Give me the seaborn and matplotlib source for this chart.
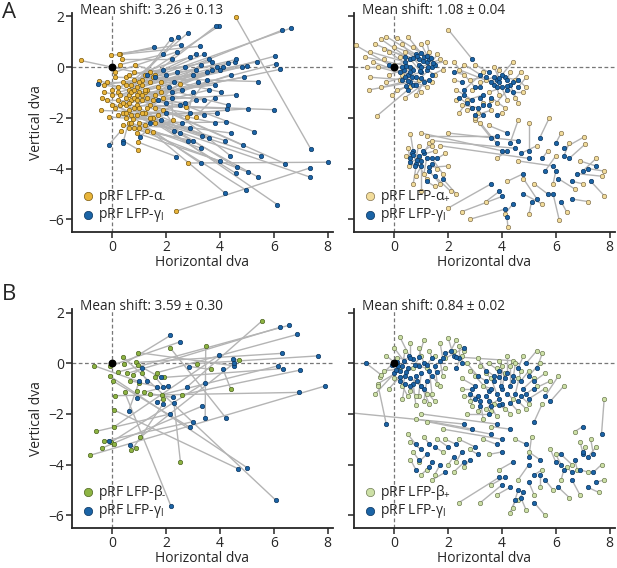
import matplotlib
matplotlib.use('Agg')
import matplotlib.pyplot as plt
from matplotlib.collections import LineCollection
import seaborn as sns
import pandas as pd

# ---- Painel A esquerda: alfa- (x, y) -> gama (x, y)
a1_ax = [4.58, 2.36, 2.82, -1.18, 1.5, 1.4, 1.2, 0.9, 0.8, 0.6, 0.5, 0.3, 0.26, -0.05, 1.0, 1.3, 0.7, 1.1, 0.4, 0.9,
         0.2, 1.6, 0.6, 1.2, 0.1, 0.8, 1.4, 0.5, 1.7, 0.3, 1.0, 0.7, 1.5, 0.6, 0.9, 1.3, 0.4, 1.1, 0.8, 0.2,
         1.0, 0.5, 1.2, 0.96, 0.7, 1.52, 0.6, 0.2, 0.33, 0.96, 0.6, 1.3, 2.25, 2.75, 3.09, 2.78, 2.53, 0.83, -0.49, -0.43,
         -0.11, -0.3, -0.2, 0.0, 0.77, 1.6, 1.8, 1.9, 0.1, 0.5, 1.1, 0.35, 0.9, 1.4, 0.4, 1.7, 0.8, 1.6, 0.0, 1.2,
         0.3, 0.5, 0.7, 0.9, 1.1, 0.4, 0.6, 0.8, 1.0, 1.3, 0.2, -0.2, -0.3, 0.1, 1.5, 1.2, 0.7, 0.9, 1.8, 0.5,
         1.4, 0.3, 0.6, 1.0, 0.0, -0.4, 0.8, 1.6, 1.9, 1.1]
a1_ay = [1.97, -5.68, -3.78, 0.26, -0.4, -0.6, -0.3, -0.8, -0.5, -0.9, -1.2, 0.5, 0.53, 0.46, -1.0, -1.2, -1.3, -0.7, -0.6, -1.5,
         -1.0, -1.1, -1.7, -1.8, -0.4, -0.2, -1.5, -2.0, -0.8, -1.5, -2.2, -0.7, -2.0, -1.1, -1.9, -0.9, -1.8, -1.3, -2.4, -1.3,
         -1.6, -1.5, -2.3, -2.96, -1.9, -2.57, -1.4, -0.8, -2.5, -3.25, -2.2, -2.5, -2.08, -1.58, -1.95, -1.97, -0.66, 0.09, -0.53, -1.71,
         -1.97, -1.0, -0.6, -1.1, -2.04, -1.6, -0.6, -1.2, -1.6, -0.4, -0.5, 0.3, -1.1, -0.2, -2.3, -1.9, -1.2, -2.2, -0.9, -1.0,
         -1.1, -0.7, -1.0, -1.3, -1.8, -1.4, -2.4, -1.6, -0.6, -1.6, -1.9, -1.3, -0.7, -0.2, -1.3, -0.9, -2.2, -2.6, -1.0, -1.8,
         -2.0, 0.1, -0.3, -2.4, -1.5, -1.2, -0.9, -0.3, -1.7, -1.1]
a1_gx = [7.37, 7.36, 8.0, 1.3, 6.65, 6.3, 3.97, 3.85, 2.8, 2.44, 2.19, 1.56, 2.55, 3.25, 6.04, 6.1, 6.24, 5.36, 4.54, 4.3,
         3.9, 4.1, 3.6, 3.3, 5.4, 4.04, 6.0, 5.04, 4.3, 4.26, 4.22, 5.26, 3.35, 4.86, 5.52, 4.38, 7.36, 6.4, 5.04, 5.43,
         4.62, 4.58, 3.28, 2.38, 4.19, 4.96, 6.13, -0.55, -0.14, 0.39, 0.39, 1.02, 2.2, 3.5, 3.8, 3.0, 3.7, 2.0, 1.7, 2.0,
         1.8, 2.5, 2.3, 2.6, 3.1, 3.4, 4.8, 4.4, 3.2, 2.9, 3.1, 2.2, 3.8, 2.7, 2.9, 3.6, 4.9, 4.4, 1.9, 3.4,
         2.4, 3.0, 3.5, 2.7, 3.9, 2.2, 3.0, 3.6, 4.6, 3.8, 2.6, 2.0, 1.6, 2.4, 4.6, 5.0, 3.3, 4.0, 4.0, 2.9,
         4.2, 1.9, 3.7, 2.8, 2.3, 1.4, 3.1, 3.4, 2.5, 2.1]
a1_gy = [-3.22, -3.97, -3.75, -0.3, 1.54, 1.45, 1.62, 1.62, 1.34, 1.18, 1.12, 0.79, 0.88, 0.82, 0.43, 0.13, -0.09, 0.2, 0.2, 0.16,
         0.0, 0.0, 0.3, 0.1, -0.57, -0.99, -1.68, -1.64, -1.5, -1.64, -2.17, -2.54, -2.7, -3.09, -3.49, -3.49, -4.34, -3.8, -4.14, -4.34,
         -3.95, -4.18, -3.79, -3.53, -4.97, -4.84, -5.42, -0.66, -3.07, -2.9, -3.0, -2.74, -1.0, -0.5, -1.2, -1.0, -0.1, -0.3, -1.3, -1.8,
         -2.1, -1.5, -0.6, -0.9, -1.3, -1.9, 0.0, -0.3, -0.6, 0.4, 0.5, 0.3, -0.7, 0.0, -2.4, -2.8, -0.4, -2.6, -0.1, -1.3,
         -0.2, -0.3, -0.2, -1.4, -1.8, -1.2, -2.9, -0.9, 0.3, -2.2, -2.2, -1.4, -0.4, 0.6, -1.1, 0.05, -3.2, -3.7, -0.1, -1.8,
         -2.9, 0.5, 0.2, -2.9, -2.5, -2.2, -0.1, 0.5, -2.6, -0.8]

# ---- Painel A direita: alfa+ -> gama
a2_ax = [-1.44, -0.9, -0.8, -0.9, -0.95, -0.5, -0.3, 0.1, 0.5, 0.3, -0.2, 0.2, -0.6, -0.3, 0.1, 0.4, -0.63, 0.6, 1.0, 1.3,
         1.5, 0.8, 0.0, -0.4, 1.7, -1.1, 0.2, 1.2,
         -0.7, -0.4, 0.0, 0.4, 0.7, 1.2, 1.6, 1.8, 1.4, 1.0, 0.3, -0.2, -0.5, -1.0, 0.6, 1.9, 0.9, -0.1,
         2.01, 2.2, 2.4, 2.3, 2.5, 2.7, 3.2, 3.5, 3.8, 4.2, 4.5, 4.9, 4.8, 4.4, 3.9, 2.8, 3.1, 2.6, 3.6, 4.6, 3.3, 2.9, 4.1,
         2.6, 3.0, 3.4, 3.7, 4.3, 4.7, 4.9, 4.5, 3.9, 3.3, 2.7, 2.4, 2.3, 2.9, 3.6, 4.0, 3.0, 2.2,
         0.6, 0.5, 0.55, 0.8, 1.1, 1.3, 1.5, 1.6, 1.7, 2.1, 1.9, 0.9, 1.2, 2.3,
         0.45, 0.7, 1.0, 1.4, 1.8, 2.0, 0.9, 1.5,
         1.4, 1.7, 1.2, 2.0, 1.0, 2.01, 2.5, 2.8, 4.22, 4.1, 3.2, 3.0, 3.5, 4.6, 5.76, 5.0,
         7.04, 7.1, 7.8, 7.7, 7.8, 6.13, 6.7, 6.0, 5.2, 4.8, 5.5, 7.2, 6.4, 4.6, 6.9, 5.3,
         3.8, 4.2, 5.7, 6.5, 7.0, 5.9, 6.2, 3.4, 5.0, 7.5]
a2_ay = [0.86, 0.6, 0.2, -0.4, -0.9, 1.1, 1.2, 1.15, 1.2, 0.9, 0.6, 0.4, 0.0, -0.6, -0.9, -1.2, -1.91, -0.8, 0.9, 0.6,
         -0.3, -1.1, 0.1, 0.3, 0.3, 0.4, -0.5, -0.8,
         0.9, 0.7, 0.8, 0.6, 0.8, 1.0, 0.5, -0.1, -0.6, -1.0, -0.3, -0.3, -0.8, 0.0, 0.3, 0.2, -0.5, -1.1,
         1.47, 0.2, -0.1, -0.9, -1.5, -1.3, -0.6, -1.0, -1.4, -1.3, -0.5, -0.4, -1.0, 0.2, -0.1, -0.5, -1.8, -0.3, -1.7, -1.4, -0.2, -1.6, -1.6,
         0.1, 0.1, -0.5, 0.0, -0.2, -0.2, -0.8, -1.2, -1.1, -1.4, -1.7, -1.8, -1.3, -0.9, -1.3, -1.8, -2.1, -0.5,
         -2.63, -3.2, -3.9, -4.3, -4.2, -3.0, -3.3, -4.0, -4.6, -4.9, -3.4, -3.1, -4.4, -5.0,
         -3.5, -4.6, -4.9, -3.1, -4.2, -3.9, -3.6, -4.7,
         -2.9, -3.1, -2.7, -2.6, -2.6, -5.55, -5.7, -6.0, -6.32, -5.8, -2.2, -2.0, -2.3, -2.1, -2.0, -2.2,
         -2.76, -3.03, -4.1, -4.3, -5.07, -6.03, -4.8, -3.5, -4.6, -4.4, -5.4, -5.3, -5.7, -3.7, -3.7, -3.1,
         -3.6, -4.5, -3.3, -3.0, -4.6, -4.6, -2.6, -5.3, -5.8, -3.6]
a2_gx = [-0.2, 0.4, 0.5, 0.3, 0.6, 0.6, 0.8, 1.0, 1.1, 0.9, 0.7, 1.2, 0.8, 1.0, 0.7, 1.3, 0.5, 1.4, 1.3, 1.5,
         1.2, 1.1, 0.9, 0.2, 1.0, 0.45, 0.6, 0.4,
         0.4, 0.7, 0.85, 1.05, 1.2, 1.35, 1.25, 1.4, 1.0, 0.8, 0.6, 0.35, 0.5, 0.3, 0.95, 1.45, 0.65, 0.45,
         2.9, 3.0, 3.6, 2.9, 3.1, 3.3, 3.8, 4.0, 4.2, 3.9, 4.1, 4.6, 4.4, 4.0, 3.7, 3.4, 3.3, 2.2, 3.0, 4.3, 2.6, 2.4, 3.6,
         3.2, 3.5, 3.7, 3.9, 4.2, 4.4, 4.6, 4.2, 3.8, 3.2, 2.9, 2.7, 2.6, 3.2, 3.5, 3.8, 3.3, 2.5,
         0.7, 0.6, 0.8, 1.0, 1.2, 1.1, 0.9, 1.4, 1.3, 1.5, 1.6, 0.75, 0.65, 1.8,
         0.7, 0.85, 1.0, 1.05, 1.4, 1.3, 0.6, 1.2,
         4.5, 5.0, 3.8, 4.6, 4.0, 3.6, 4.0, 4.1, 4.19, 4.4, 3.8, 3.6, 4.2, 4.3, 5.4, 5.0,
         6.3, 6.5, 7.2, 6.8, 7.3, 5.9, 6.1, 5.6, 5.7, 5.3, 4.8, 6.6, 6.2, 5.9, 7.5, 4.7,
         4.2, 4.8, 5.5, 6.3, 6.6, 6.0, 6.0, 3.9, 5.1, 7.0]
a2_gy = [0.1, 0.2, -0.3, -0.5, -0.6, 0.3, 0.5, 0.55, 0.4, 0.1, -0.1, 0.2, -0.4, -0.2, -0.7, -0.5, -0.9, 0.0, 0.3, 0.1,
         -0.1, -0.6, 0.3, -0.2, 0.0, 0.05, 0.0, -0.4,
         0.4, 0.35, 0.45, 0.25, 0.45, 0.35, 0.0, -0.3, -0.45, -0.7, -0.2, -0.1, -0.55, 0.0, -0.15, 0.15, -0.4, -0.75,
         0.3, -0.8, -0.6, -1.3, -1.6, -1.1, -0.5, -0.8, -0.9, -0.6, -0.4, -0.8, -1.0, -0.3, -0.7, -0.4, -1.5, -0.2, -1.9, -0.7, -0.9, -1.2, -1.2,
         -0.3, -0.2, -0.4, -0.45, -0.5, -0.6, -0.5, -0.75, -0.8, -1.2, -1.6, -1.4, -1.1, -0.8, -1.5, -1.9, -1.9, -0.6,
         -3.3, -3.6, -3.8, -3.9, -3.6, -3.4, -3.5, -3.8, -4.1, -4.3, -3.6, -3.9, -3.4, -4.4,
         -3.45, -3.65, -3.7, -3.3, -3.6, -3.95, -3.75, -4.5,
         -3.2, -3.6, -2.7, -2.9, -3.3, -4.6, -5.1, -5.6, -5.92, -5.4, -3.0, -2.8, -2.6, -3.0, -2.8, -3.3,
         -3.2, -3.6, -4.0, -4.2, -4.5, -5.0, -4.4, -4.1, -5.0, -5.2, -5.0, -5.2, -5.3, -3.9, -3.9, -3.4,
         -3.3, -4.2, -3.6, -3.5, -4.5, -4.1, -3.0, -4.9, -5.3, -4.1]

# ---- Painel B esquerda: beta- -> gama
b1_bx = [5.55, 2.15, 3.47, 0.96, 0.4, -0.67, -0.07, 0.86, 0.45, 3.16, 3.65, 4.71, -0.07, 0.01, 0.2, 0.55, 0.75, 1.66, 1.91, 1.83,
         1.9, 2.6, 4.4, 0.11, 0.05, 0.05, -0.61, -0.05, -0.3, -0.39, -0.82, 1.04, 0.89, 0.71, 2.53, 0.46, 0.92, 1.17, 0.67, 0.98,
         0.94, 1.1, 1.4, 1.6, 0.05]
b1_by = [1.66, 0.61, 0.68, 0.42, 0.25, -0.1, -0.1, 0.03, -0.01, -0.01, -0.24, 0.12, -0.52, -0.69, -0.35, -0.4, -0.45, -0.37, -0.56, -1.24,
         -1.4, -1.24, -1.02, -1.28, -1.84, -2.52, -2.69, -3.12, -3.07, -3.35, -3.63, -2.92, -3.33, -3.44, -3.9, -1.15, -1.08, -1.15, -0.69, -0.78,
         -0.07, -0.4, -1.2, -0.55, -3.2]
b1_gx = [2.76, 4.22, 3.45, 4.52, 6.07, 0.98, 2.53, 6.3, 2.16, 7.64, 2.86, 4.48, 5.02, 2.87, 6.57, 6.24, 1.11, 6.88, 6.34, 6.17,
         1.66, 6.98, 4.11, 6.94, 4.67, 3.96, 2.15, 3.43, 2.98, 3.32, 7.9, 4.52, 0.67, 1.88, 2.29, 2.17, 0.92, 2.07, 1.66, 0.61,
         1.79, 1.29, 2.25, 1.89, -0.12]
b1_gy = [-0.95, -2.16, -2.16, -0.1, -5.4, -0.72, 0.85, 0.39, 1.1, 0.29, -0.13, 0.18, -4.13, -2.52, 1.5, 1.42, -0.17, 1.14, -0.21, -0.1,
         -1.54, -0.27, -0.23, -1.15, -4.16, 0.31, -2.0, -0.77, -2.31, -1.7, -0.9, 0.0, -3.24, -1.61, -1.58, -5.62, -1.39, -0.9, -0.92, -1.87,
         -0.56, -0.69, -1.35, -0.93, -3.05]

# ---- Painel B direita: beta+ -> gama
b2_bx = [0.2, -0.55, -0.7, -0.6, -0.5, -0.6, 0.3, 0.6, 0.9, 1.1, 0.8, 1.4, 1.6, 1.2, 0.4, 0.9, 1.3, 0.0, 1.0, 0.5,
         1.8, 0.1, 1.5,
         -0.3, 0.0, 0.6, 1.1, 1.5, 1.7, 1.3, 0.8, 0.3, -0.2, 0.7, 1.9, 1.0, 0.2, -0.4, 1.2,
         2.0, 2.3, 2.4, 2.2, 2.6, 1.7, 2.5, 4.4, 1.9,
         2.5, 2.8, 3.2, 3.5, 3.9, 4.3, 4.7, 5.2, 5.4, 5.5, 5.6, 5.8, 4.9, 4.3, 3.8, 3.3, 2.9, 2.6, 3.0, 3.6,
         4.1, 4.6, 3.4, 4.8, 5.3, 6.1, 6.3, 2.7, 5.5,
         2.7, 3.1, 3.4, 3.8, 4.2, 4.5, 5.0, 5.3, 5.0, 4.6, 4.1, 3.6, 3.1, 2.8, 2.5, 3.3, 4.0, 4.4, 5.6, 3.7,
         -1.7, 0.5, 0.7, 0.9, 1.2, 1.5, 1.8, 2.0, 2.3, 2.6, 1.1, 1.6, 0.6, 2.4, 1.4, 0.8, 1.2, 1.8, 1.0,
         3.5, 3.9, 3.2, 3.8, 4.4, 4.3, 5.2, 5.5, 5.0, 5.8, 6.2, 6.8, 7.1, 7.3, 7.7, 7.8, 7.6, 6.9, 6.5, 5.9,
         2.4, 4.6, 7.8, 6.7, 4.5, 3.6, 5.6, 6.6,
         0.6, 1.0, 1.9, 2.2, 2.8, 3.6, 4.6, 5.4, 6.0, 7.2, 7.5, 6.4, 3.3, 5.1, 6.9, 4.9]
b2_by = [1.05, -0.55, -1.2, -0.8, -0.45, -0.9, -0.9, -1.1, -1.3, -1.5, -1.65, -1.2, -0.8, -0.2, 0.5, 0.6, 0.5, -0.6, -0.9, -1.3,
         -0.5, 0.2, -1.5,
         0.3, 0.6, 0.8, 0.9, 0.3, -0.9, -1.6, -1.3, -1.4, -1.0, -0.2, -0.2, 0.3, -0.2, -0.3, -1.2,
         1.0, 0.9, 0.7, 0.5, 0.5, 0.8, 0.3, 0.1, 0.2,
         -0.6, -0.3, -0.1, 0.0, 0.1, -0.1, -0.3, -0.6, 0.0, 0.4, -1.0, -0.7, -1.8, -2.0, -2.1, -2.2, -1.7, -1.3, -0.5, -0.6,
         -0.4, -0.6, -1.8, 0.3, 0.5, -0.5, -0.9, -2.0, -1.6,
         0.0, 0.2, -0.4, -0.2, 0.3, 0.0, -0.3, -0.9, -1.6, -1.9, -1.8, -1.9, -1.9, -1.5, -1.0, -0.9, -0.1, -1.4, -0.4, -1.6,
         -1.95, -2.8, -3.5, -3.9, -4.2, -4.4, -3.5, -4.0, -3.9, -4.1, -2.9, -3.0, -3.8, -3.0, -4.6, -2.2, -2.3, -2.6, -2.0,
         -3.6, -4.2, -5.5, -5.2, -5.7, -5.9, -5.2, -4.2, -3.5, -3.4, -4.6, -4.2, -3.3, -3.0, -4.0, -4.6, -5.1, -5.2, -5.3, -5.0,
         -5.5, -4.6, -1.4, -2.7, -3.0, -2.5, -6.0, -4.0,
         -3.1, -4.4, -3.0, -4.3, -3.4, -4.8, -5.4, -4.9, -3.6, -4.3, -3.3, -4.1, -3.0, -2.9, -3.1, -5.8]
b2_gx = [0.55, -0.1, 0.0, 0.2, -1.05, -0.3, 0.5, 0.8, 1.0, 1.2, 0.7, 1.3, 1.5, 0.9, 0.3, 1.1, 1.4, 0.4, 0.6, 0.2,
         1.7, 0.7, 1.1,
         0.15, 0.35, 0.6, 0.9, 1.2, 1.4, 1.0, 0.6, 0.4, 0.2, 0.45, 1.6, 0.75, 0.1, 0.05, 0.85,
         2.2, 2.1, 2.4, 1.9, 2.5, 1.8, 2.3, 2.3, 2.6,
         3.0, 3.4, 3.7, 3.9, 4.1, 4.3, 4.5, 4.8, 5.0, 5.3, 5.0, 5.2, 4.6, 4.0, 3.6, 3.2, 2.8, 3.1, 3.5, 3.8,
         4.0, 4.4, 3.9, 4.6, 4.9, 5.6, 5.8, 3.5, 5.2,
         3.1, 3.4, 3.7, 3.9, 4.2, 4.4, 4.7, 4.9, 4.7, 4.3, 3.9, 3.5, 3.2, 3.0, 2.9, 3.6, 3.95, 4.2, 5.2, 3.4,
         2.6, 0.8, 0.9, 1.2, 1.4, 1.7, 1.5, 2.2, 2.5, 2.8, 1.3, 2.0, 0.8, 3.0, 1.9, 2.9, 3.6, 4.0, 3.8,
         4.0, 4.4, 4.0, 4.3, 4.6, 4.5, 5.0, 5.2, 5.4, 6.0, 6.3, 6.7, 7.0, 7.4, 7.4, 7.5, 7.2, 6.6, 6.1, 5.6,
         3.9, 5.0, 7.7, 7.0, 4.9, 4.3, 5.2, 6.2,
         1.0, 1.3, 2.3, 2.6, 3.1, 4.1, 4.8, 5.4, 6.2, 6.9, 7.2, 6.6, 3.8, 5.0, 7.0, 4.7]
b2_gy = [0.3, -0.05, -0.4, -0.3, 0.0, -2.4, -0.2, -0.5, -0.4, -0.7, -0.8, -0.3, -0.1, -0.1, -0.1, 0.0, 0.2, -0.5, -0.6, -0.7,
         0.1, 0.15, -1.0,
         -0.1, 0.1, 0.2, 0.25, -0.05, -0.5, -0.9, -0.9, -0.8, -0.55, -0.35, -0.35, -0.05, 0.05, -0.25, -0.7,
         0.3, 0.5, 0.2, 0.4, 0.0, 0.2, -0.2, 0.25, 0.6,
         -0.9, -0.7, -0.5, -0.3, -0.6, -0.9, -1.2, -1.0, -0.5, -0.2, -1.4, -1.0, -1.5, -1.6, -1.7, -1.5, -1.2, -1.3, -1.1, -1.2,
         -1.0, -0.5, -1.4, -0.2, 0.0, -1.3, -1.5, -2.0, -2.3,
         -0.5, -0.3, -0.7, -0.55, -0.4, -0.7, -0.7, -1.2, -1.3, -1.55, -1.65, -1.5, -1.7, -1.4, -1.0, -1.0, -0.9, -1.2, -0.7, -1.3,
         -2.4, -3.2, -3.8, -3.6, -3.9, -4.0, -3.3, -3.7, -3.5, -3.8, -3.2, -3.3, -4.2, -3.3, -4.3, -2.6, -2.8, -3.0, -2.4,
         -3.5, -3.9, -4.8, -4.9, -5.0, -5.4, -4.7, -4.4, -3.8, -3.9, -4.2, -3.8, -3.6, -3.6, -4.3, -4.7, -4.9, -4.6, -4.9, -4.6,
         -4.5, -4.0, -2.8, -2.5, -3.2, -2.6, -5.5, -3.6,
         -3.4, -4.1, -3.2, -3.9, -3.6, -4.5, -5.1, -4.4, -4.0, -4.2, -3.7, -4.3, -3.2, -3.7, -3.5, -5.3]

shift_txt = ['Mean shift: 3.26 \u00b1 0.13', 'Mean shift: 1.08 \u00b1 0.04',
             'Mean shift: 3.59 \u00b1 0.30', 'Mean shift: 0.84 \u00b1 0.02']
lbl_low = ['pRF LFP-\u03b1$_{\u2010}$', 'pRF LFP-\u03b1$_{+}$', 'pRF LFP-\u03b2$_{\u2010}$', 'pRF LFP-\u03b2$_{+}$']
lbl_gam = 'pRF LFP-\u03b3$_{\\mathrm{l}}$'

cor_baixa = ['#E8B43A', '#F2DC9A', '#8DB443', '#CDE0A6']
cor_borda = ['#7A5A10', '#857450', '#4C6420', '#6F7D55']
azul = '#1B64A6'
azul_borda = '#0B355E'

sns.set_style('ticks')
plt.rcParams['font.family'] = ['Open Sans', 'DejaVu Sans']
plt.rcParams['mathtext.fontset'] = 'custom'
plt.rcParams['mathtext.rm'] = 'Open Sans'

fig = plt.figure(figsize=(6.17, 5.68), dpi=100)
posicoes = [[0.1167, 0.5915, 0.423, 0.3856], [0.5737, 0.5915, 0.423, 0.3856],
            [0.1167, 0.0705, 0.423, 0.3850], [0.5737, 0.0705, 0.423, 0.3850]]
dados = [(a1_ax, a1_ay, a1_gx, a1_gy), (a2_ax, a2_ay, a2_gx, a2_gy),
         (b1_bx, b1_by, b1_gx, b1_gy), (b2_bx, b2_by, b2_gx, b2_gy)]

for i, (pos, (bx, by, gx, gy)) in enumerate(zip(posicoes, dados)):
    ax = fig.add_axes(pos)
    ax.axhline(0, color='#777777', ls=(0, (3, 2)), lw=0.9, zorder=1)
    ax.axvline(0, color='#777777', ls=(0, (3, 2)), lw=0.9, zorder=1)
    segs = [[(x0, y0), (x1, y1)] for x0, y0, x1, y1 in zip(bx, by, gx, gy)]
    ax.add_collection(LineCollection(segs, colors='#B4B4B4', linewidths=1.0, zorder=2))
    df_b = pd.DataFrame({'x': bx, 'y': by})
    df_g = pd.DataFrame({'x': gx, 'y': gy})
    sns.scatterplot(data=df_b, x='x', y='y', ax=ax, s=10, color=cor_baixa[i],
                    edgecolor=cor_borda[i], linewidth=0.5, zorder=3, label=lbl_low[i])
    sns.scatterplot(data=df_g, x='x', y='y', ax=ax, s=10, color=azul,
                    edgecolor=azul_borda, linewidth=0.5, zorder=4, label=lbl_gam)
    ax.scatter([0], [0], s=22, color='black', zorder=6)
    ax.set_xlim(-1.5, 8.2)
    ax.set_ylim(-6.5, 2.13)
    ax.set_xticks([0, 2, 4, 6, 8])
    ax.set_yticks([-6, -4, -2, 0, 2])
    sns.despine(ax=ax)
    ax.spines['left'].set_linewidth(1.3)
    ax.spines['bottom'].set_linewidth(1.3)
    ax.tick_params(length=4, width=1.1, labelsize=10, pad=1.5)
    ax.set_xlabel('Horizontal dva', fontsize=10, labelpad=0)
    if i % 2 == 0:
        ax.set_ylabel('Vertical dva', fontsize=10, labelpad=3)
    else:
        ax.set_ylabel('')
        ax.set_yticklabels([])
    ax.text(0.03, 1.012, shift_txt[i], transform=ax.transAxes, fontsize=9.8,
            va='center', ha='left')
    leg = ax.legend(loc='lower left', frameon=False, fontsize=10, handletextpad=0.1,
                    borderaxespad=0.15, labelspacing=0.05, markerscale=1.9, handlelength=1.2)

fig.text(0.003, 0.997, 'A', fontsize=16, va='top', ha='left')
fig.text(0.003, 0.500, 'B', fontsize=16, va='top', ha='left')

fig.savefig('out.png', dpi=100)
